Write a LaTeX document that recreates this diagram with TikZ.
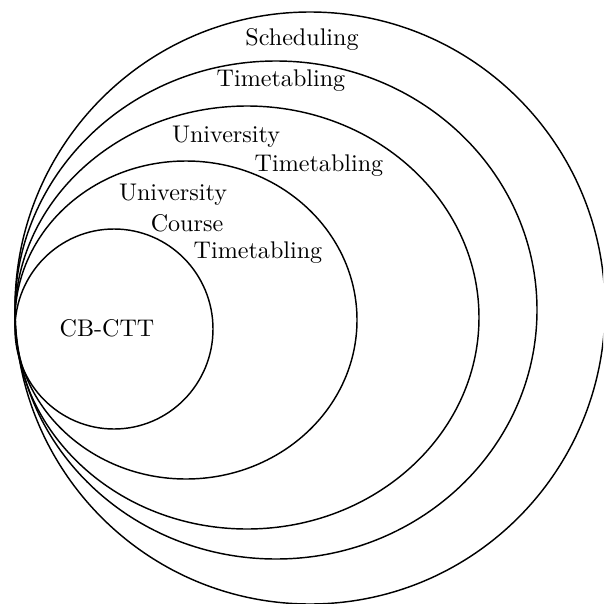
\documentclass[tikz,border=0pt]{standalone}
\usepackage{tikz}

\begin{document}
\begin{tikzpicture}[x=0.415pt, y=-0.415pt, semithick]
  % Clip to the frame of the picture
  \clip (0,0) rectangle (603,604);

  % Draw the nested sets, all touching on the left
  \draw (310,308) ellipse (295 and 296);
  \draw (276,310) ellipse (261 and 249);
  \draw (247,317.5) ellipse (232 and 211.5);
  \draw (186,320) ellipse (171 and 159);
  \draw (114,329) ellipse (99 and 100);

  % Put the names of the sets
  \node (sched) at (302,39) {Scheduling};
  \node (tt) at (281,81) {Timetabling};
  \node (utA) at (226,137) {University};
  \node (utB) at (319,166) {Timetabling};
  \node (uctA) at (173,195) {University};
  \node (uctB) at (187,223) {Course};
  \node (uctC) at (258,253) {Timetabling};
  \node (cbctt) at (107,328) {CB-CTT};
\end{tikzpicture}
\end{document}
